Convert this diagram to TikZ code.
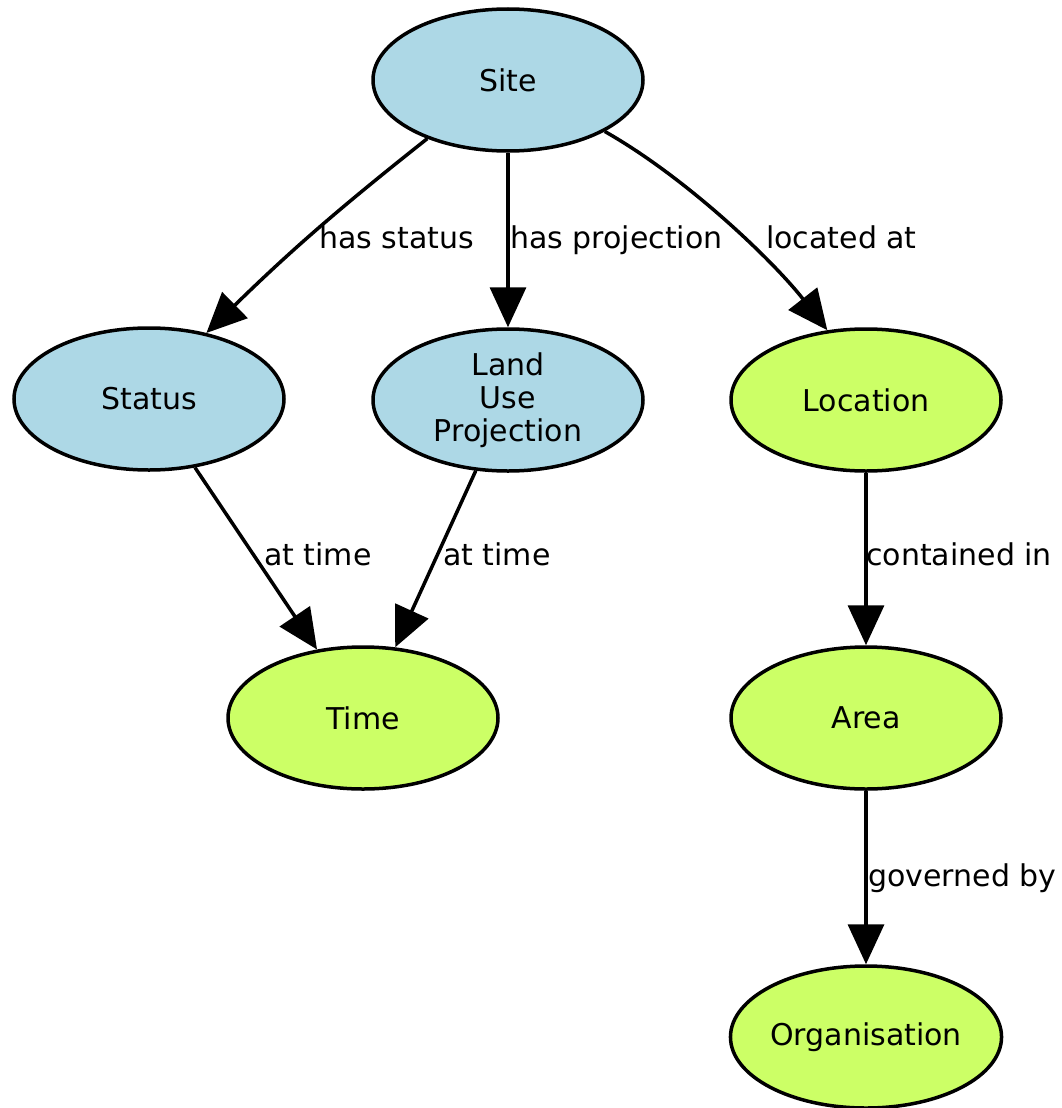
\documentclass[tikz,border=0pt]{standalone}
\usepackage{fontspec}
\setmainfont{DejaVu Sans}
\usetikzlibrary{shapes.geometric,arrows.meta}
\definecolor{nodeblue}{RGB}{173,216,230}
\definecolor{nodegreen}{RGB}{204,255,102}
\begin{document}
\begin{tikzpicture}[x=1pt,y=-1pt,
  concept/.style={ellipse, draw=black, line width=3.5pt, minimum width=270pt, minimum height=142pt, inner sep=0pt, align=center, font=\fontsize{30}{33}\selectfont},
  bluenode/.style={concept, fill=nodeblue},
  greennode/.style={concept, fill=nodegreen},
  rel/.style={line width=3.5pt, -{Triangle[length=40pt,width=36pt]}},
  lbl/.style={anchor=base west, inner sep=0pt, font=\fontsize{30}{33}\selectfont}]
\useasboundingbox (0,0) rectangle (1062,1108);
\node[bluenode] (site) at (508,80) {Site};
\node[bluenode] (status) at (149,399) {Status};
\node[bluenode] (lup) at (508,400) {Land\\Use\\Projection};
\node[greennode] (loc) at (866,400) {Location};
\node[greennode] (time) at (363,718) {Time};
\node[greennode] (area) at (866,718) {Area};
\node[greennode] (org) at (866,1037) {Organisation};

\draw[rel] (site.216) to[bend right=3] (status.49);
\draw[rel] (site) -- (lup);
\draw[rel] (site.-28) .. controls +(83,47) and +(-53,-68) .. (loc.119);
\draw[rel] (status) -- (time);
\draw[rel] (lup) -- (time);
\draw[rel] (loc) -- (area);
\draw[rel] (area) -- (org);

\node[lbl] (l1) at (319,248) {has status};
\node[lbl] (l2) at (510,248) {has projection};
\node[lbl] (l3) at (766,248) {located at};
\node[lbl] (l4) at (264,565) {at time};
\node[lbl] (l5) at (443,565) {at time};
\node[lbl] (l6) at (866,565) {contained in};
\node[lbl] (l7) at (868,886) {governed by};
\end{tikzpicture}
\end{document}
